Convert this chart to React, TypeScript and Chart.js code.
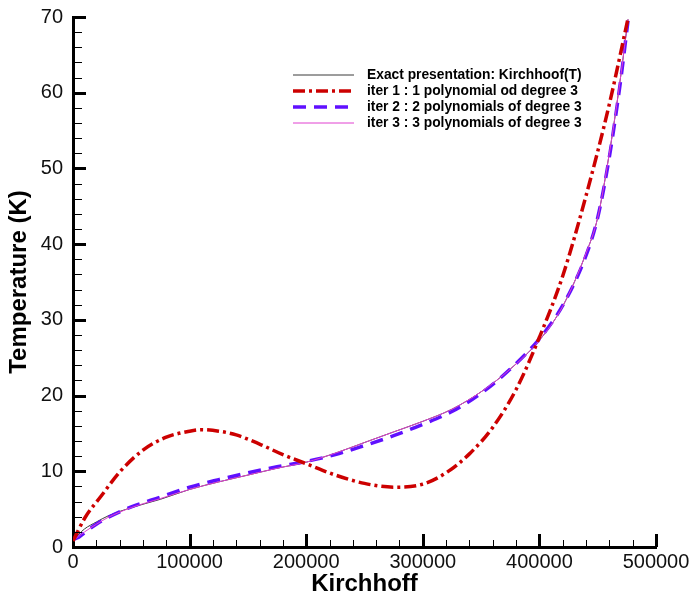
import React, { useEffect, useRef } from "react";
import { Chart, registerables } from "chart.js";

Chart.register(...registerables);

// ---- Data ----
const kirchhoff = [0, 5000, 10000, 20000, 30000, 50000, 75000, 100000, 125000, 150000, 175000, 200000, 225000, 250000, 275000, 300000, 325000, 350000, 375000, 400000, 420000, 440000, 450000, 460000, 465000, 470000, 476000];
const tExact = [0.9, 1.7, 2.4, 3.3, 4.1, 5.2, 6.3, 7.6, 8.6, 9.5, 10.4, 11.2, 12.4, 13.8, 15.2, 16.6, 18.2, 20.5, 23.5, 27.3, 31.8, 38.8, 43.5, 52.0, 57.0, 62.5, 69.7];
const tIter2 = [1.0, 1.3, 1.9, 3.0, 3.9, 5.3, 6.6, 7.9, 8.9, 9.8, 10.6, 11.3, 12.2, 13.4, 14.7, 16.2, 17.9, 20.3, 23.5, 27.5, 31.9, 38.5, 43.5, 51.5, 56.5, 62.0, 69.5];
const tIter3 = [0.9, 1.4, 2.0, 3.0, 3.9, 5.2, 6.4, 7.6, 8.6, 9.5, 10.4, 11.2, 12.4, 13.8, 15.2, 16.6, 18.2, 20.5, 23.5, 27.3, 31.8, 38.8, 43.5, 52.0, 57.0, 62.5, 69.7];

const kirchhoffIter1 = [0, 10000, 25000, 40000, 60000, 80000, 100000, 110000, 125000, 140000, 160000, 180000, 200000, 225000, 250000, 275000, 300000, 320000, 340000, 360000, 380000, 400000, 420000, 440000, 460000, 476000];
const tIter1 = [0.8, 3.8, 6.9, 9.9, 12.8, 14.5, 15.3, 15.5, 15.3, 14.8, 13.6, 12.2, 11.0, 9.5, 8.4, 7.9, 8.3, 9.8, 12.3, 15.8, 20.8, 27.7, 35.8, 46.4, 58.5, 69.8];

const seriesLabels = [
  "Exact presentation: Kirchhoof(T)",
  "iter 1 : 1 polynomial od degree 3",
  "iter 2 : 2 polynomials of degree 3",
  "iter 3 : 3 polynomials of degree 3",
];

const xTitle = "Kirchhoff";
const yTitle = "Temperature (K)";
const X_MIN = 0, X_MAX = 500000, X_MAJOR = 100000, X_MINOR = 20000;
const Y_MIN = 0, Y_MAX = 70, Y_MAJOR = 10, Y_MINOR = 2;

const toPts = (xs: number[], ys: number[]) => xs.map((x, i) => ({ x, y: ys[i] }));

const axisTicks = {
  id: "axisTicks",
  afterDraw(chart: any) {
    const { ctx, chartArea, scales } = chart;
    const { left, bottom } = chartArea;
    const x = scales.x, y = scales.y;
    ctx.save();
    ctx.strokeStyle = "#000";
    for (let v = X_MIN; v <= X_MAX; v += X_MINOR) {
      const px = Math.round(x.getPixelForValue(v)) + 0.5;
      const major = v % X_MAJOR === 0;
      if (v === X_MIN) continue;
      ctx.lineWidth = major ? 3 : 1;
      ctx.beginPath();
      ctx.moveTo(px, bottom);
      ctx.lineTo(px, bottom - (major ? 13 : 7));
      ctx.stroke();
    }
    for (let v = Y_MIN; v <= Y_MAX + 1e-9; v += Y_MINOR) {
      const py = Math.round(y.getPixelForValue(v)) + 0.5;
      const major = Math.abs(v % Y_MAJOR) < 1e-9;
      if (v === Y_MIN) continue;
      ctx.lineWidth = major ? 3 : 1;
      ctx.beginPath();
      ctx.moveTo(left, py);
      ctx.lineTo(left + (major ? 13 : 9), py);
      ctx.stroke();
    }
    ctx.restore();
  },
};

const customLegend = {
  id: "customLegend",
  afterDraw(chart: any) {
    const { ctx } = chart;
    const x0 = 293, x1 = 354, tx = 367;
    const rows = [75, 91, 107, 123];
    const legendOrder = [0, 1, 2, 3];
    ctx.save();
    legendOrder.forEach((di, r) => {
      const ds = chart.data.datasets[di];
      const yy = rows[r];
      ctx.strokeStyle = ds.borderColor;
      ctx.lineWidth = ds.borderWidth;
      ctx.setLineDash(ds.borderDash || []);
      ctx.beginPath();
      ctx.moveTo(x0, yy);
      ctx.lineTo(x1, yy);
      ctx.stroke();
      ctx.setLineDash([]);
      ctx.fillStyle = "#000";
      ctx.font = "bold 13.8px 'Liberation Sans', Arial, sans-serif";
      ctx.textBaseline = "middle";
      ctx.textAlign = "left";
      ctx.fillText(ds.label, tx, yy);
    });
    ctx.restore();
  },
};

const zeroPad = (s: any) => {
  s.paddingTop = 0;
  s.paddingBottom = 0;
  s.paddingLeft = 0;
  s.paddingRight = 0;
};

export default function App() {
  const ref = useRef<HTMLCanvasElement>(null);
  useEffect(() => {
    if (!ref.current) return;
    const chart = new Chart(ref.current, {
      type: "line",
      data: {
        datasets: [
          {
            label: seriesLabels[0],
            data: toPts(kirchhoff, tExact),
            borderColor: "#3a3a3a",
            borderWidth: 1,
            pointRadius: 0,
            cubicInterpolationMode: "monotone",
            order: 3,
          },
          {
            label: seriesLabels[1],
            data: toPts(kirchhoffIter1, tIter1),
            borderColor: "#cc0000",
            borderWidth: 3.5,
            borderDash: [12, 4, 3, 4],
            pointRadius: 0,
            cubicInterpolationMode: "monotone",
            order: 0,
          },
          {
            label: seriesLabels[2],
            data: toPts(kirchhoff, tIter2),
            borderColor: "#6010ff",
            borderWidth: 3.5,
            borderDash: [13, 8],
            pointRadius: 0,
            cubicInterpolationMode: "monotone",
            order: 2,
          },
          {
            label: seriesLabels[3],
            data: toPts(kirchhoff, tIter3),
            borderColor: "#e040d0",
            borderWidth: 1,
            pointRadius: 0,
            cubicInterpolationMode: "monotone",
            order: 1,
          },
        ],
      } as any,
      options: {
        animation: false,
        responsive: true,
        maintainAspectRatio: false,
        layout: { padding: { top: 17, right: 37, left: 0, bottom: 0 } },
        plugins: { legend: { display: false }, tooltip: { enabled: false } },
        scales: {
          x: {
            type: "linear",
            min: X_MIN,
            max: X_MAX,
            grid: { display: false, drawTicks: false, tickLength: 0 },
            border: { display: true, color: "#000", width: 3 },
            ticks: {
              stepSize: X_MAJOR,
              padding: 3,
              color: "#111",
              font: { family: "'Liberation Sans', Arial, sans-serif", size: 20 },
              callback: (v: any) => String(v),
              maxRotation: 0,
            },
            title: {
              display: true,
              text: xTitle,
              color: "#000",
              font: { family: "'Liberation Sans', Arial, sans-serif", size: 24, weight: "bold" },
              padding: { top: 0, bottom: -2 },
            },
            afterFit: (s: any) => { s.height = 50; zeroPad(s); },
          },
          y: {
            type: "linear",
            min: Y_MIN,
            max: Y_MAX,
            grid: { display: false, drawTicks: false, tickLength: 0 },
            border: { display: true, color: "#000", width: 3 },
            ticks: {
              stepSize: Y_MAJOR,
              padding: 10,
              color: "#111",
              font: { family: "'Liberation Sans', Arial, sans-serif", size: 20 },
              callback: (v: any) => String(v),
            },
            title: {
              display: true,
              text: yTitle,
              color: "#000",
              font: { family: "'Liberation Sans', Arial, sans-serif", size: 24, weight: "bold" },
              padding: { top: 5, bottom: 0 },
            },
            afterFit: (s: any) => { s.width = 73; zeroPad(s); },
          },
        },
      } as any,
      plugins: [axisTicks, customLegend],
    });
    return () => chart.destroy();
  }, []);
  return (
    <div style={{ position: "fixed", left: 0, top: 0, width: 693, height: 597, background: "#fff" }}>
      <canvas ref={ref} style={{ width: 693, height: 597 }} />
    </div>
  );
}
